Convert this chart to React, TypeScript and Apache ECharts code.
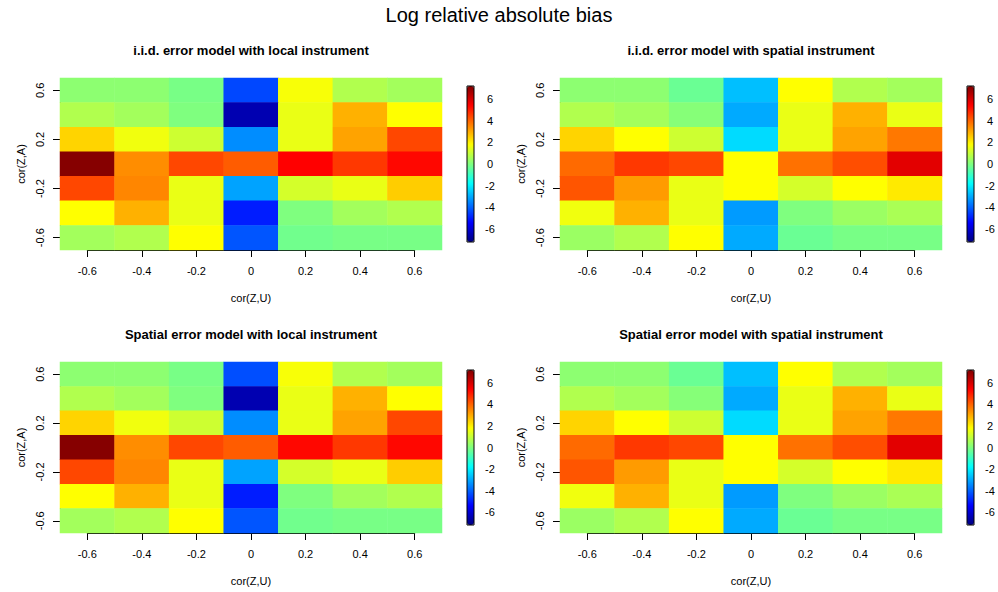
import React, { useEffect, useRef } from 'react';
import * as echarts from 'echarts';

const xLabels = ['-0.6', '-0.4', '-0.2', '0', '0.2', '0.4', '0.6'];
const yLabels = ['-0.6', '-0.4', '-0.2', '0', '0.2', '0.4', '0.6'];
const yTickLabels = ['-0.6', '', '-0.2', '0', '0.2', '0.4', '0.6'];
const colorTicks = [-6, -4, -2, 0, 2, 4, 6];
const mainTitle = 'Log relative absolute bias';
const panelTitles = [
  'i.i.d. error model with local instrument',
  'i.i.d. error model with spatial instrument',
  'Spatial error model with local instrument',
  'Spatial error model with spatial instrument',
];
const xName = 'cor(Z,U)';
const yName = 'cor(Z,A)';

// rows listed from cor(Z,A)=0.6 (top) down to -0.6 (bottom); columns cor(Z,U) -0.6 .. 0.6
const iidLocal = [
  [0.2, 0.2, -0.1, -4.4, 1.7, 0.7, 0.5],
  [0.7, 0.5, 0.0, -6.5, 1.5, 2.9, 1.8],
  [2.4, 1.6, 1.1, -3.4, 1.5, 3.1, 4.4],
  [7.1, 3.4, 4.4, 4.1, 5.4, 4.6, 5.3],
  [4.4, 3.5, 1.5, -3.1, 1.2, 1.5, 2.5],
  [1.8, 2.9, 1.5, -5.0, 0.0, 0.5, 0.7],
  [0.5, 0.7, 1.8, -4.2, -0.2, -0.1, -0.1],
];
const iidSpatial = [
  [0.2, 0.2, -0.3, -2.7, 1.8, 0.7, 0.5],
  [0.7, 0.5, 0.1, -3.0, 1.5, 2.9, 1.5],
  [2.4, 1.8, 1.1, -2.3, 1.5, 3.1, 3.7],
  [3.9, 4.6, 4.4, 1.8, 3.8, 4.3, 5.8],
  [4.2, 3.2, 1.5, 1.8, 1.2, 1.8, 2.1],
  [1.6, 2.9, 1.5, -3.2, 0.0, 0.4, 0.6],
  [0.4, 0.7, 1.8, -3.0, -0.3, -0.1, -0.1],
];
const spatialLocal = [
  [0.2, 0.2, -0.1, -4.3, 1.7, 0.7, 0.5],
  [0.7, 0.5, 0.0, -6.5, 1.5, 2.9, 1.8],
  [2.4, 1.6, 1.1, -3.4, 1.5, 3.1, 4.4],
  [7.1, 3.4, 4.4, 4.1, 5.3, 4.6, 5.3],
  [4.4, 3.5, 1.5, -3.1, 1.2, 1.5, 2.5],
  [1.8, 2.9, 1.5, -5.0, 0.0, 0.5, 0.7],
  [0.5, 0.7, 1.8, -4.2, -0.2, -0.1, -0.1],
];
const spatialSpatial = [
  [0.2, 0.2, -0.3, -2.7, 1.8, 0.7, 0.5],
  [0.7, 0.5, 0.1, -3.0, 1.5, 2.9, 1.5],
  [2.4, 1.8, 1.1, -2.3, 1.5, 3.1, 3.7],
  [3.9, 4.6, 4.4, 1.8, 3.8, 4.3, 5.8],
  [4.2, 3.2, 1.5, 1.8, 1.2, 1.8, 2.1],
  [1.6, 2.9, 1.5, -3.2, 0.0, 0.4, 0.6],
  [0.4, 0.7, 1.8, -3.0, -0.3, -0.1, -0.1],
];
const matrices = [iidLocal, iidSpatial, spatialLocal, spatialSpatial];

const jetColors = ['#00007F', '#0000FF', '#007FFF', '#00FFFF', '#7FFF7F', '#FFFF00', '#FF7F00', '#FF0000', '#7F0000'];
const scaleMin = -7.2;
const scaleMax = 7.2;

const FONT = 'Liberation Sans, Arial, Helvetica, sans-serif';

const layout = [
  { L: 60, T: 78, W: 382, H: 172, cbL: 467, cbT: 86, cbH: 156, titleY: 50 },
  { L: 560, T: 78, W: 382, H: 172, cbL: 967, cbT: 86, cbH: 156, titleY: 50 },
  { L: 60, T: 362, W: 382, H: 171, cbL: 467, cbT: 370, cbH: 155, titleY: 334 },
  { L: 560, T: 362, W: 382, H: 171, cbL: 967, cbT: 370, cbH: 155, titleY: 334 },
];

function buildOption() {
  const grid: any[] = [];
  const xAxis: any[] = [];
  const yAxis: any[] = [];
  const series: any[] = [];
  const visualMap: any[] = [];
  const graphic: any[] = [];

  const axisLine = { show: true, lineStyle: { color: '#000', width: 1 } };
  const axisTick = { show: true, length: 7, lineStyle: { color: '#000', width: 1 } };
  const label = { color: '#000', fontFamily: FONT, fontSize: 11 };

  graphic.push({
    type: 'text', x: 499, y: 15,
    style: { text: mainTitle, fontFamily: FONT, fontSize: 20, fill: '#000', textAlign: 'center', textVerticalAlign: 'middle' },
  });

  layout.forEach((p, i) => {
    const g = i * 4;
    // heat grid
    grid.push({ left: p.L, top: p.T, width: p.W, height: p.H });
    xAxis.push({ type: 'category', gridIndex: g, data: xLabels, show: false });
    yAxis.push({ type: 'category', gridIndex: g, data: yLabels, show: false });
    // x-axis grid (inset half cell)
    grid.push({ left: p.L + p.W / 14, top: p.T, width: (p.W * 12) / 14, height: p.H });
    xAxis.push({
      type: 'category', gridIndex: g + 1, data: xLabels, boundaryGap: false, position: 'bottom',
      axisLine, axisTick, axisLabel: { ...label, margin: 15 },
      name: xName, nameLocation: 'middle', nameGap: 42, nameTextStyle: { ...label },
      splitLine: { show: false },
    });
    yAxis.push({ type: 'value', gridIndex: g + 1, show: false });
    // y-axis grid (inset half cell)
    grid.push({ left: p.L, top: p.T + p.H / 14, width: p.W, height: (p.H * 12) / 14 });
    xAxis.push({ type: 'value', gridIndex: g + 2, show: false });
    yAxis.push({
      type: 'category', gridIndex: g + 2, data: yTickLabels, boundaryGap: false, position: 'left',
      axisLine, axisTick, axisLabel: { ...label, rotate: 90, margin: 15 },
      name: yName, nameLocation: 'middle', nameGap: 34, nameRotate: 90, nameTextStyle: { ...label },
      splitLine: { show: false },
    });
    // colorbar grid
    grid.push({ left: p.cbL, top: p.cbT, width: 7, height: p.cbH, show: true, borderColor: '#000', borderWidth: 1, backgroundColor: 'transparent', z: 10 });
    xAxis.push({ type: 'value', gridIndex: g + 3, show: false });
    yAxis.push({
      type: 'value', gridIndex: g + 3, position: 'right', min: scaleMin, max: scaleMax,
      axisLine: { show: false }, splitLine: { show: false },
      axisTick: { ...axisTick, length: 5, customValues: colorTicks },
      axisLabel: { ...label, margin: 16, align: 'center', customValues: colorTicks },
    });

    const m = matrices[i];
    const data: number[][] = [];
    m.forEach((row, r) => {
      row.forEach((v, c) => {
        data.push([c, m.length - 1 - r, v]);
      });
    });
    series.push({ type: 'heatmap', xAxisIndex: g, yAxisIndex: g, data, itemStyle: { borderWidth: 0 } });

    visualMap.push({
      type: 'continuous', seriesIndex: i, min: scaleMin, max: scaleMax, calculable: false,
      inRange: { color: jetColors }, left: p.cbL, top: p.cbT, itemWidth: 7, itemHeight: p.cbH,
      padding: 0, orient: 'vertical', showLabel: false, text: null,
    });

    graphic.push({
      type: 'text', x: p.L + p.W / 2, y: p.titleY,
      style: { text: panelTitles[i], fontFamily: FONT, fontSize: 13, fontWeight: 'bold', fill: '#000', textAlign: 'center', textVerticalAlign: 'middle' },
    });
  });

  return { animation: false, backgroundColor: '#fff', grid, xAxis, yAxis, series, visualMap, graphic };
}

export default function App() {
  const ref = useRef<HTMLDivElement>(null);
  useEffect(() => {
    if (!ref.current) return;
    const chart = echarts.init(ref.current, undefined, { renderer: 'svg' });
    chart.setOption(buildOption() as any);
    return () => chart.dispose();
  }, []);
  return <div ref={ref} style={{ position: 'fixed', left: 0, top: 0, width: 998, height: 592, background: '#fff' }} />;
}
